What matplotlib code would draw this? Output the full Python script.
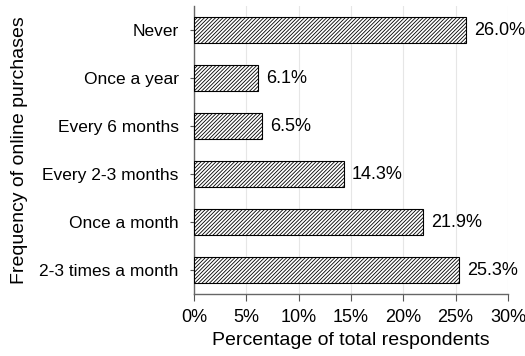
import matplotlib
matplotlib.use("Agg")
import matplotlib.pyplot as plt
from matplotlib.ticker import FuncFormatter

plt.rcParams["font.family"] = ["Liberation Sans", "DejaVu Sans"]
plt.rcParams["hatch.linewidth"] = 0.6

categories = ["Never", "Once a year", "Every 6 months", "Every 2-3 months",
              "Once a month", "2-3 times a month"]
values = [26.0, 6.1, 6.5, 14.3, 21.9, 25.3]
xticks = [0, 5, 10, 15, 20, 25, 30]

fig = plt.figure(figsize=(5.25, 3.56), dpi=100)
ax = fig.add_axes([0.3695, 0.174, 0.598, 0.809])

ypos = list(range(len(categories)))
ax.barh(ypos, values, height=0.54, color="white", edgecolor="black",
        linewidth=0.8, hatch="/////////", zorder=3)
for y, v in zip(ypos, values):
    ax.text(v + 0.8, y, f"{v:.1f}%", va="center", ha="left", fontsize=13)

ax.set_ylim(len(categories) - 0.5, -0.5)
ax.set_xlim(0, 30)
ax.set_yticks(ypos)
ax.set_yticklabels(categories, fontsize=12.5)
ax.set_xticks(xticks)
ax.xaxis.set_major_formatter(FuncFormatter(lambda v, p: f"{v:.0f}%"))
ax.tick_params(axis="x", labelsize=13, length=5, color="#555555", pad=6)
ax.tick_params(axis="y", length=3, color="#555555", pad=8)
ax.grid(axis="x", color="#e6e6e6", linewidth=0.8, zorder=0)
for s in ["top", "right"]:
    ax.spines[s].set_visible(False)
for s in ["left", "bottom"]:
    ax.spines[s].set_color("#666666")
    ax.spines[s].set_linewidth(1.0)
ax.set_xlabel("Percentage of total respondents", fontsize=14, labelpad=4)
ax.set_ylabel("Frequency of online purchases", fontsize=14, labelpad=8)

fig.savefig("out.png", dpi=100)
